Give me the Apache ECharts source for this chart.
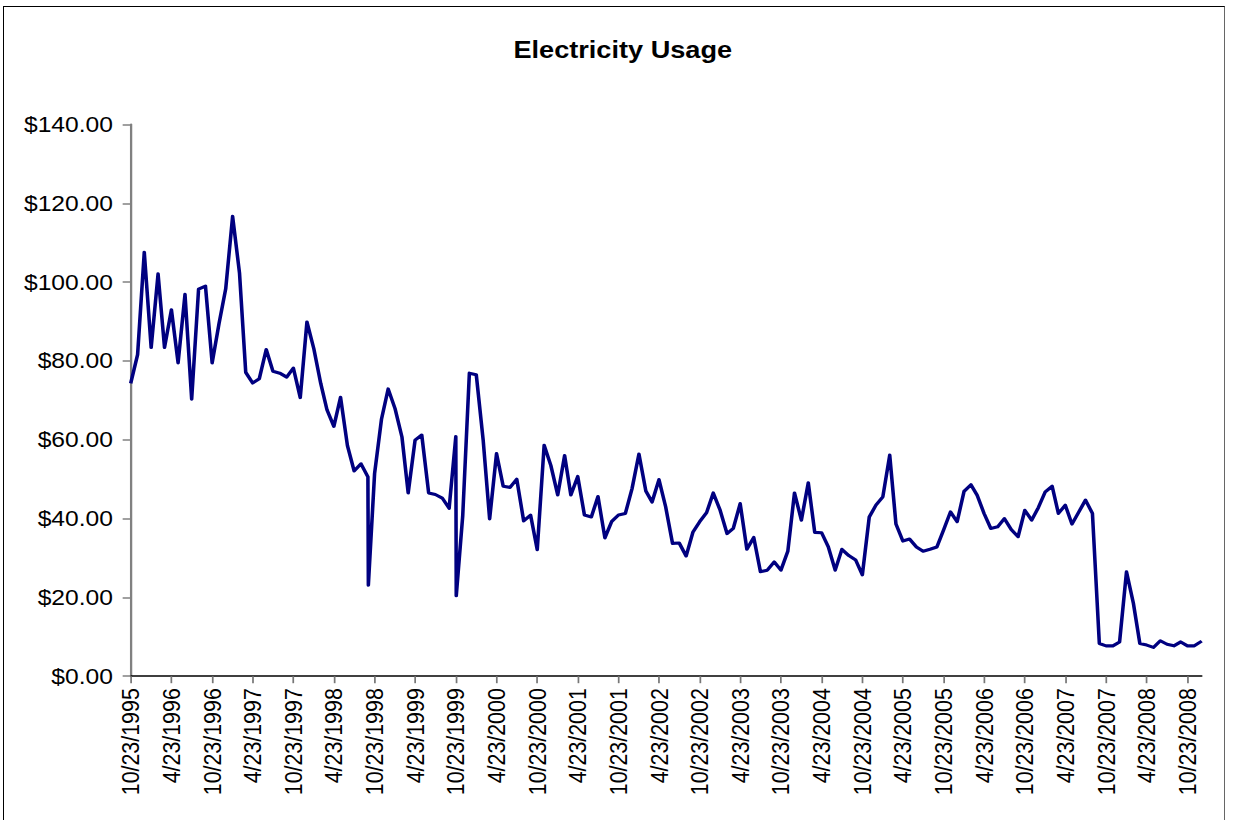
<!DOCTYPE html>
<html>
<head>
<meta charset="utf-8">
<title>Electricity Usage</title>
<script src="https://cdn.jsdelivr.net/npm/echarts@6/dist/echarts.min.js"></script>
<style>
  html, body { margin: 0; padding: 0; background: #ffffff; overflow: hidden; }
  #frame {
    position: absolute; left: 3px; top: 6px; width: 1222px; height: 830px;
    border-left: 1px solid #000; border-top: 1px solid #000; border-right: 1px solid #666;
    box-sizing: border-box;
  }
  #chart { position: absolute; left: 0; top: 0; height: 820px; transform-origin: 0 0; }
</style>
</head>
<body>
<div id="frame"></div>
<div id="chart"></div>
<script>
// Meter reading dates and the bill for each reading
const readDates = [
  '1995-10-23', '1995-11-23', '1995-12-23',
  '1996-01-23', '1996-02-23', '1996-03-23', '1996-04-23', '1996-05-23', '1996-06-23',
  '1996-07-23', '1996-08-23', '1996-09-23', '1996-10-23', '1996-11-23', '1996-12-23',
  '1997-01-23', '1997-02-23', '1997-03-23', '1997-04-23', '1997-05-23', '1997-06-23',
  '1997-07-23', '1997-08-23', '1997-09-23', '1997-10-23', '1997-11-23', '1997-12-23',
  '1998-01-23', '1998-02-23', '1998-03-23', '1998-04-23', '1998-05-23', '1998-06-23',
  '1998-07-23', '1998-08-23', '1998-09-23', '1998-09-25', '1998-10-23', '1998-11-23', '1998-12-23',
  '1999-01-23', '1999-02-23', '1999-03-23', '1999-04-23', '1999-05-23', '1999-06-23',
  '1999-07-23', '1999-08-23', '1999-09-23', '1999-10-23', '1999-10-25', '1999-11-23', '1999-12-23',
  '2000-01-23', '2000-02-23', '2000-03-23', '2000-04-23', '2000-05-23', '2000-06-23',
  '2000-07-23', '2000-08-23', '2000-09-23', '2000-10-23', '2000-11-23', '2000-12-23',
  '2001-01-23', '2001-02-23', '2001-03-23', '2001-04-23', '2001-05-23', '2001-06-23',
  '2001-07-23', '2001-08-23', '2001-09-23', '2001-10-23', '2001-11-23', '2001-12-23',
  '2002-01-23', '2002-02-23', '2002-03-23', '2002-04-23', '2002-05-23', '2002-06-23',
  '2002-07-23', '2002-08-23', '2002-09-23', '2002-10-23', '2002-11-23', '2002-12-23',
  '2003-01-23', '2003-02-23', '2003-03-23', '2003-04-23', '2003-05-23', '2003-06-23',
  '2003-07-23', '2003-08-23', '2003-09-23', '2003-10-23', '2003-11-23', '2003-12-23',
  '2004-01-23', '2004-02-23', '2004-03-23', '2004-04-23', '2004-05-23', '2004-06-23',
  '2004-07-23', '2004-08-23', '2004-09-23', '2004-10-23', '2004-11-23', '2004-12-23',
  '2005-01-23', '2005-02-23', '2005-03-23', '2005-04-23', '2005-05-23', '2005-06-23',
  '2005-07-23', '2005-08-23', '2005-09-23', '2005-10-23', '2005-11-23', '2005-12-23',
  '2006-01-23', '2006-02-23', '2006-03-23', '2006-04-23', '2006-05-23', '2006-06-23',
  '2006-07-23', '2006-08-23', '2006-09-23', '2006-10-23', '2006-11-23', '2006-12-23',
  '2007-01-23', '2007-02-23', '2007-03-23', '2007-04-23', '2007-05-23', '2007-06-23',
  '2007-07-23', '2007-08-23', '2007-09-23', '2007-10-23', '2007-11-23', '2007-12-23',
  '2008-01-23', '2008-02-23', '2008-03-23', '2008-04-23', '2008-05-23', '2008-06-23',
  '2008-07-23', '2008-08-23', '2008-09-23', '2008-10-23', '2008-11-23', '2008-12-26'
];

const usage = [
  74.3, 81.6, 107.6,
  83.4, 102.1, 83.4, 93.0, 79.5, 96.9, 70.3, 98.2, 99.0, 79.5, 89.5, 98.3,
  116.7, 102.3, 77.1, 74.4, 75.5, 82.9, 77.4, 76.9, 75.9, 78.2, 70.7, 89.9,
  83.1, 74.3, 67.6, 63.4, 70.8, 58.5, 52.1, 53.9, 50.6, 23.1, 51.4, 65.2, 72.9,
  67.9, 60.7, 46.5, 59.9, 61.2, 46.5, 46.1, 45.2, 42.6, 60.8, 20.4, 40.6, 76.9,
  76.5, 59.9, 39.9, 56.5, 48.2, 47.9, 50.0, 39.4, 40.9, 32.1, 58.6, 53.5,
  46.0, 56.0, 46.0, 50.7, 40.9, 40.4, 45.6, 35.1, 39.3, 40.9, 41.3, 47.6,
  56.4, 47.0, 44.2, 49.9, 43.0, 33.7, 33.8, 30.5, 36.6, 39.2, 41.5, 46.5,
  42.1, 36.2, 37.5, 43.8, 32.2, 35.2, 26.5, 26.9, 29.0, 26.9, 31.7, 46.5,
  39.6, 49.1, 36.5, 36.4, 32.8, 26.9, 32.2, 30.6, 29.5, 25.7, 40.4, 43.4,
  45.5, 56.1, 38.6, 34.3, 34.8, 32.8, 31.7, 32.2, 32.8, 37.1, 41.7, 39.2,
  46.9, 48.6, 45.9, 41.3, 37.5, 37.9, 40.0, 37.2, 35.4, 42.1, 39.6, 42.8,
  46.8, 48.2, 41.3, 43.4, 38.6, 41.7, 44.7, 41.3, 8.3, 7.7, 7.7, 8.7,
  26.5, 18.5, 8.3, 7.9, 7.3, 9.0, 8.1, 7.7, 8.7, 7.7, 7.7, 8.9
];

// Date axis labels, one every six months
const tickLabels = [
  '10/23/1995', '4/23/1996', '10/23/1996', '4/23/1997', '10/23/1997', '4/23/1998',
  '10/23/1998', '4/23/1999', '10/23/1999', '4/23/2000', '10/23/2000', '4/23/2001',
  '10/23/2001', '4/23/2002', '10/23/2002', '4/23/2003', '10/23/2003', '4/23/2004',
  '10/23/2004', '4/23/2005', '10/23/2005', '4/23/2006', '10/23/2006', '4/23/2007',
  '10/23/2007', '4/23/2008', '10/23/2008'
];

const yTicks = [0, 20, 40, 60, 80, 100, 120, 140];

// ---- helpers: days elapsed since the first reading ----
function toUTC(str) {
  let y, m, d;
  if (str.indexOf('/') >= 0) {
    const p = str.split('/');
    m = +p[0]; d = +p[1]; y = +p[2];
  } else {
    const p = str.split('-');
    y = +p[0]; m = +p[1]; d = +p[2];
  }
  return Date.UTC(y, m - 1, d);
}
const DAY = 86400000;
const origin = toUTC(readDates[0]);
const dayOf = s => Math.round((toUTC(s) - origin) / DAY);

const tickDays = tickLabels.map(dayOf);
const labelByDay = {};
tickLabels.forEach((t, k) => { labelByDay[tickDays[k]] = t; });
const seriesData = readDates.map((d, i) => [dayOf(d), usage[i]]);
const lastDay = dayOf(readDates[readDates.length - 1]);

// The chart face is set in a slightly narrow box and widened horizontally
const SX = 1.15;
const W = 1236 / SX;
const chartEl = document.getElementById('chart');
chartEl.style.width = W + 'px';
chartEl.style.transform = 'scaleX(' + SX + ')';

const plotLeft = 130.7 / SX;
const plotRight = (1236 - 1201.7) / SX;
const FONT = "'Liberation Sans', Arial, sans-serif";

const chart = echarts.init(chartEl, null, { renderer: 'svg', width: W, height: 820 });
chart.setOption({
  animation: false,
  backgroundColor: 'transparent',
  title: {
    text: 'Electricity Usage',
    left: 617 / SX,
    textAlign: 'center',
    top: 33,
    textStyle: { fontFamily: FONT, fontSize: 23.6, fontWeight: 'bold', color: '#000' }
  },
  grid: { left: plotLeft, right: plotRight, top: 124.5, bottom: 820 - 676.2, containLabel: false },
  xAxis: {
    type: 'value',
    min: 0,
    max: lastDay,
    axisLine: { show: true, onZero: false, lineStyle: { color: '#000', width: 1.5 } },
    axisTick: { show: true, length: 7, lineStyle: { color: '#777', width: 1.5 }, customValues: tickDays },
    axisLabel: {
      customValues: tickDays,
      rotate: 90,
      margin: 12,
      fontFamily: FONT,
      fontSize: 21.4,
      color: '#000',
      formatter: v => labelByDay[Math.round(v)] || ''
    },
    splitLine: { show: false }
  },
  yAxis: {
    type: 'value',
    min: yTicks[0],
    max: yTicks[yTicks.length - 1],
    interval: yTicks[1] - yTicks[0],
    axisLine: { show: true, lineStyle: { color: '#808080', width: 2 } },
    axisTick: { show: true, length: 7, lineStyle: { color: '#808080', width: 1.5 } },
    axisLabel: {
      margin: 15.5,
      fontFamily: FONT,
      fontSize: 21.4,
      color: '#000',
      formatter: v => '$' + v.toFixed(2)
    },
    splitLine: { show: false }
  },
  series: [{
    type: 'line',
    data: seriesData,
    showSymbol: false,
    symbol: 'none',
    lineStyle: { color: '#000080', width: 3.1, join: 'round' },
    clip: false
  }]
});
</script>
</body>
</html>
